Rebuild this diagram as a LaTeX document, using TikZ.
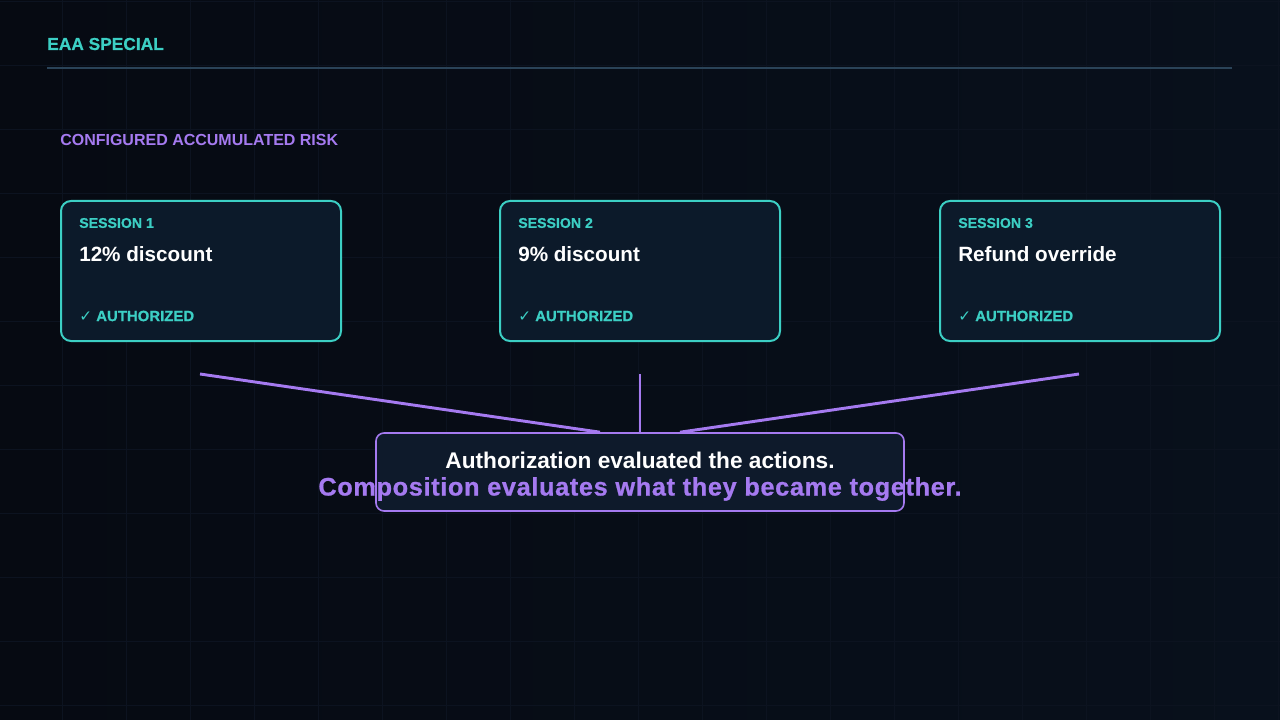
\documentclass[tikz,border=0pt]{standalone}
\usepackage{fontspec}
\setmainfont{Liberation Sans}
\newfontfamily\symfont{DejaVu Sans}
\definecolor{bgA}{HTML}{060A12}
\definecolor{bgB}{HTML}{08101C}
\definecolor{gridc}{HTML}{0C1320}
\definecolor{teal}{HTML}{3CCFC4}
\definecolor{purp}{HTML}{A57AF0}
\definecolor{cardfill}{HTML}{0C1A2A}
\definecolor{capfill}{HTML}{0E1A2B}
\definecolor{rulec}{HTML}{2A4358}
\tikzset{
  card/.style={draw=teal, line width=1.5pt, fill=cardfill, rounded corners=7.5pt, minimum width=210pt, minimum height=105pt, anchor=north west, inner sep=0pt},
  sesslabel/.style={text=teal, font=\bfseries\fontsize{10.6}{12}\selectfont\addfontfeature{FakeBold=0.6}, anchor=west, inner sep=0pt},
  sesstitle/.style={text=white, font=\bfseries\fontsize{15.5}{18}\selectfont, anchor=west, inner sep=0pt},
  authlabel/.style={text=teal, font=\bfseries\fontsize{11.2}{13}\selectfont\addfontfeature{FakeBold=0.6}, anchor=west, inner sep=0pt},
  link/.style={draw=purp, line width=2.2pt},
}
\begin{document}
\begin{tikzpicture}[x=0.75pt,y=-0.75pt]
\shade[left color=bgA, right color=bgB] (0,0) rectangle (1280,720);
\useasboundingbox (0,0) rectangle (1280,720);
\foreach \i in {0,...,20} \draw[gridc, line width=0.7pt] (\i*64-2,0) -- (\i*64-2,720);
\foreach \j in {0,...,11} \draw[gridc, line width=0.7pt] (0,\j*64+1) -- (1280,\j*64+1);
% header
\node[text=teal, font=\bfseries\fontsize{13}{15}\selectfont\addfontfeature{FakeBold=0.6}, anchor=west, inner sep=0pt] (hdr) at (47,44) {EAA SPECIAL};
\coordinate (ruleL) at (47,68);
\coordinate (ruleR) at (1232,68);
\draw[rulec, line width=0.9pt] (ruleL) -- (ruleR);
\node[text=purp, font=\bfseries\fontsize{12}{14}\selectfont, anchor=west, inner sep=0pt] (risk) at (60,140) {CONFIGURED ACCUMULATED RISK};
% cards
\foreach \n/\x/\t in {1/60/12\% discount, 2/499/9\% discount, 3/939/Refund override}{
  \node[card] (card\n) at (\x,200) {};
  \node[sesslabel] (s\n) at (\x+19,223) {SESSION \n};
  \node[sesstitle] (t\n) at (\x+19,254) {\t};
  \node[authlabel] (a\n) at (\x+19,316) {{\symfont\fontsize{11.5}{13}\selectfont ✓} AUTHORIZED};
}
% caption box
\node[draw=purp, line width=1.2pt, fill=capfill, rounded corners=6pt, minimum width=396pt, minimum height=58.5pt, inner sep=0pt] (cap) at (640,472) {};
\node[text=white, font=\bfseries\fontsize{17}{20}\selectfont, inner sep=0pt, anchor=base] (c1) at (640,468) {Authorization evaluated the actions.};
\node[text=purp, font=\bfseries\fontsize{19}{22}\selectfont\addfontfeature{LetterSpace=2.5,FakeBold=0.8}, inner sep=0pt, anchor=base] (c2) at (640,495.5) {Composition evaluates what they became together.};
% connectors
\coordinate (p1) at (200,374);
\coordinate (p2) at (640,374);
\coordinate (p3) at (1079,374);
\draw[link] (p1) -- ([xshift=-30pt]cap.north);
\draw[link] (p2) -- (cap.north);
\draw[link] (p3) -- ([xshift=30pt]cap.north);
\end{tikzpicture}
\end{document}
